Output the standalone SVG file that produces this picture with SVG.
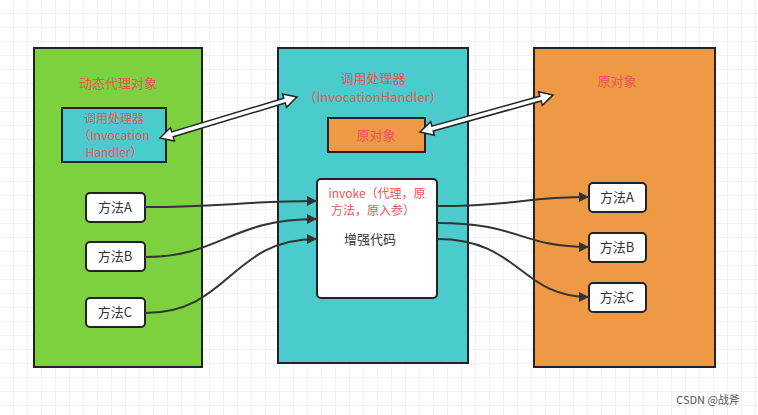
<svg xmlns="http://www.w3.org/2000/svg" width="758" height="415" viewBox="0 0 758 415">
<defs>
<pattern id="grid" width="14" height="14" patternUnits="userSpaceOnUse"><path d="M14 0V14H0" fill="none" stroke="#e3e3e3" stroke-width="1"/></pattern>
<marker id="ah" viewBox="0 0 10 10" refX="10" refY="5" markerWidth="10" markerHeight="10" markerUnits="userSpaceOnUse" orient="auto"><path d="M0 0L10 5L0 10z" fill="#333"/></marker>
</defs>
<style>
text{font-family:"Noto Sans CJK SC","Noto Sans",sans-serif;font-size:13px;text-anchor:middle}
.red{fill:#ea5454}
.s{font-size:12px}
.dk{fill:#333}
.box{stroke:#222;stroke-width:2}
.m{fill:#fff;stroke:#222;stroke-width:2}
.c{fill:none;stroke:#333;stroke-width:2;marker-end:url(#ah)}
.h{fill:#fff;stroke:#222;stroke-width:1.5}
</style>
<rect width="758" height="415" fill="#fff"/>
<rect width="758" height="415" fill="url(#grid)"/>
<g id="proxy"><rect class="box" x="34" y="48" width="168" height="319" fill="#7dd13f"/><text class="red" x="118" y="88">动态代理对象</text></g>
<g id="handler"><rect class="box" x="278" y="48" width="190" height="315" fill="#4bcbcc"/><text class="red" x="373" y="83">调用处理器</text><text class="red" x="373" y="102">（InvocationHandler）</text></g>
<g id="orig"><rect class="box" x="534" y="48" width="181" height="319" fill="#ee9944"/><text class="red" x="617" y="86">原对象</text></g>
<g id="innerHandler"><rect class="box" x="62" y="108" width="104" height="54" fill="#4bcbcc"/><text class="red s" x="114" y="123">调用处理器</text><text class="red s" x="114" y="140">（Invocation</text><text class="red s" x="114" y="157">Handler）</text></g>
<g id="innerOrig"><rect class="box" x="328" y="118" width="97" height="34" fill="#ee9944"/><text class="red" x="376" y="140">原对象</text></g>
<g id="invoke"><rect class="m" x="317" y="179" width="120" height="119" rx="4"/><text class="red s" x="377" y="198">invoke（代理，原</text><text class="red s" x="373" y="215">方法，原入参）</text><text class="dk" x="370" y="244">增强代码</text></g>
<g id="lA"><rect class="m" x="86" y="193" width="59" height="29" rx="4"/><text class="dk" x="115" y="212">方法A</text></g>
<g id="lB"><rect class="m" x="86" y="242" width="59" height="29" rx="4"/><text class="dk" x="115" y="261">方法B</text></g>
<g id="lC"><rect class="m" x="86" y="298" width="59" height="29" rx="4"/><text class="dk" x="115" y="317">方法C</text></g>
<g id="rA"><rect class="m" x="589" y="183" width="57" height="29" rx="4"/><text class="dk" x="617" y="202">方法A</text></g>
<g id="rB"><rect class="m" x="589" y="233" width="57" height="29" rx="4"/><text class="dk" x="617" y="252">方法B</text></g>
<g id="rC"><rect class="m" x="589" y="283" width="57" height="29" rx="4"/><text class="dk" x="617" y="302">方法C</text></g>
<g id="connectors">
<polygon class="h" transform="translate(160,138) rotate(-16.7)" points="0,0 13,-7 13,-2.5 130,-2.5 130,-7 143,0 130,7 130,2.5 13,2.5 13,7"/>
<polygon class="h" transform="translate(420,132) rotate(-15.5)" points="0,0 13,-7 13,-2.5 125,-2.5 125,-7 138,0 125,7 125,2.5 13,2.5 13,7"/>
<path class="c" d="M145 207C230 207 240 201 317 201"/>
<path class="c" d="M145 257C220 257 230 219 317 219"/>
<path class="c" d="M145 313C230 313 230 239 317 239"/>
<path class="c" d="M437 206C520 206 520 197 589 197"/>
<path class="c" d="M437 223C520 223 520 247 589 247"/>
<path class="c" d="M437 239C520 239 520 297 589 297"/>
</g>
<text x="708" y="404" style="font-size:11px;fill:#555">CSDN @战斧</text>
</svg>
